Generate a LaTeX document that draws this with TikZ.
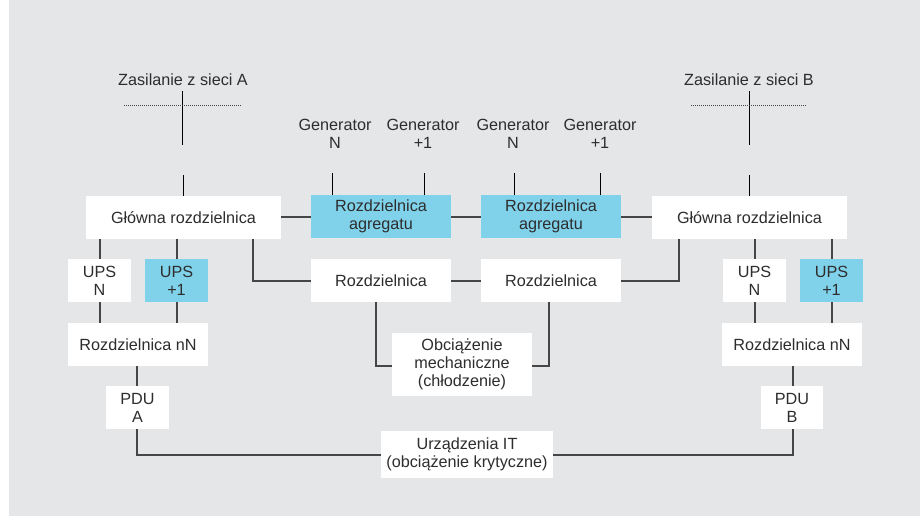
\documentclass[tikz,border=0pt]{standalone}
\usepackage{fontspec}
\setmainfont{Liberation Sans}
\definecolor{bgg}{RGB}{229,230,232}
\definecolor{boxblue}{RGB}{128,210,234}
\definecolor{txt}{RGB}{45,45,45}
\definecolor{ln}{RGB}{70,70,70}
\begin{document}
\begin{tikzpicture}[x=1pt,y=-1pt,
  every node/.style={font=\fontsize{16.2}{18}\selectfont, text=txt, align=center, inner sep=0pt},
  wbox/.style={fill=white, minimum height=43pt},
  bbox/.style={fill=boxblue, minimum height=43pt},
  conn/.style={draw=ln, line width=1.2pt},
  feed/.style={draw=black, line width=1pt},
  dots/.style={draw=ln, line width=0.8pt, dash pattern=on 1pt off 1pt}]
\useasboundingbox (0,0) rectangle (920,522);
\fill[bgg] (9,0) rectangle (920,516);

% supply labels
\node (za) at (183,80) {Zasilanie z sieci A};
\node (zb) at (749,80) {Zasilanie z sieci B};
\node (g1) at (335,134) {Generator\\N};
\node (g2) at (423,134) {Generator\\+1};
\node (g3) at (513,134) {Generator\\N};
\node (g4) at (600,134) {Generator\\+1};

% boxes
\node[wbox, minimum width=195pt] (ga) at (183.5,217.5) {Główna rozdzielnica};
\node[bbox, minimum width=140pt] (ra1) at (381,216.5) {Rozdzielnica\\agregatu};
\node[bbox, minimum width=140pt] (ra2) at (551,216.5) {Rozdzielnica\\agregatu};
\node[wbox, minimum width=195pt] (gb) at (749.5,217.5) {Główna rozdzielnica};
\node[wbox, minimum width=63pt] (upsna) at (99.5,280.5) {UPS\\N};
\node[bbox, minimum width=63pt] (ups1a) at (176.5,280.5) {UPS\\+1};
\node[wbox, minimum width=140pt] (r1) at (381,280.5) {Rozdzielnica};
\node[wbox, minimum width=140pt] (r2) at (551,280.5) {Rozdzielnica};
\node[wbox, minimum width=63pt] (upsnb) at (754.5,280.5) {UPS\\N};
\node[bbox, minimum width=63pt] (ups1b) at (831.5,280.5) {UPS\\+1};
\node[wbox, minimum width=140pt] (nna) at (138,344.5) {Rozdzielnica nN};
\node[wbox, minimum width=140pt] (nnb) at (792,344.5) {Rozdzielnica nN};
\node[fill=white, minimum width=140pt, minimum height=63pt] (obc) at (462,364.5) {Obciążenie\\mechaniczne\\(chłodzenie)};
\node[wbox, minimum width=63pt] (pdua) at (137.5,407.5) {PDU\\A};
\node[wbox, minimum width=62pt] (pdub) at (792,407.5) {PDU\\B};
\node[fill=white, minimum width=172pt, minimum height=47pt] (it) at (467,454.5) {Urządzenia IT\\(obciążenie krytyczne)};

% supply A
\coordinate (sa1) at (182.5,91);
\coordinate (sa2) at (182.5,145);
\coordinate (sa3) at (183,175);
\coordinate (da1) at (124,105);
\coordinate (da2) at (241,105);
\draw[feed] (sa1) -- (sa2);
\draw[dots] (da1) -- (da2);
\draw[feed] (sa3) -- (sa3 |- ga.north);
% supply B
\coordinate (sb1) at (749,91);
\coordinate (sb2) at (749,145);
\coordinate (sb3) at (749,175);
\coordinate (db1) at (691,105);
\coordinate (db2) at (807,105);
\draw[feed] (sb1) -- (sb2);
\draw[dots] (db1) -- (db2);
\draw[feed] (sb3) -- (sb3 |- gb.north);
% generators
\coordinate (gl1) at (332,173);
\coordinate (gl2) at (424,173);
\coordinate (gl3) at (514,173);
\coordinate (gl4) at (600,173);
\foreach \c in {gl1,gl2}{\draw[feed] (\c) -- (\c |- ra1.north);}
\foreach \c in {gl3,gl4}{\draw[feed] (\c) -- (\c |- ra2.north);}

% horizontal chain
\draw[conn] (ga.east |- 0,217) -- (ra1.west |- 0,217);
\draw[conn] (ra1.east |- 0,217) -- (ra2.west |- 0,217);
\draw[conn] (ra2.east |- 0,217) -- (gb.west |- 0,217);

% A side
\draw[conn] (upsna.north -| 100,0) -- (ga.south -| 100,0);
\draw[conn] (ups1a.north -| 177,0) -- (ga.south -| 177,0);
\draw[conn] (ga.south -| 253,0) |- (r1.west |- 0,281);
\draw[conn] (upsna.south -| 100,0) -- (nna.north -| 100,0);
\draw[conn] (ups1a.south -| 177,0) -- (nna.north -| 177,0);
\draw[conn] (nna.south -| 137,0) -- (pdua.north -| 137,0);
\draw[conn] (pdua.south -| 137,0) |- (it.west |- 0,455);

% middle
\draw[conn] (r1.east |- 0,281) -- (r2.west |- 0,281);
\draw[conn] (r2.east |- 0,281) -| (gb.south -| 679,0);
\draw[conn] (r1.south -| 376,0) |- (obc.west |- 0,366);
\draw[conn] (r2.south -| 549,0) |- (obc.east |- 0,366);

% B side
\draw[conn] (upsnb.north -| 755,0) -- (gb.south -| 755,0);
\draw[conn] (ups1b.north -| 832,0) -- (gb.south -| 832,0);
\draw[conn] (upsnb.south -| 755,0) -- (nnb.north -| 755,0);
\draw[conn] (ups1b.south -| 832,0) -- (nnb.north -| 832,0);
\draw[conn] (nnb.south -| 793,0) -- (pdub.north -| 793,0);
\draw[conn] (pdub.south -| 793,0) |- (it.east |- 0,455);
\end{tikzpicture}
\end{document}
